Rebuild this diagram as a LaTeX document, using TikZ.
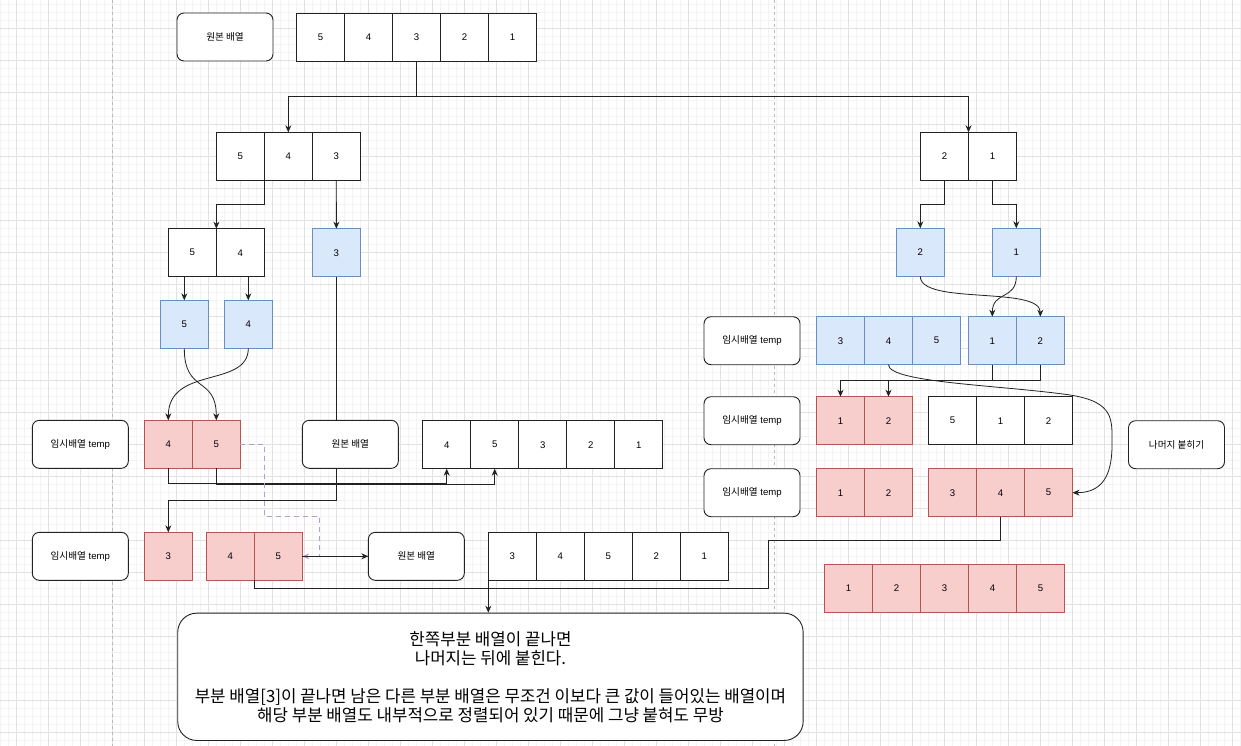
\documentclass[tikz,border=0pt]{standalone}
\usepackage{fontspec}
\setmainfont{Liberation Sans}
\newfontfamily\kr{Noto Sans CJK KR}
\usetikzlibrary{arrows.meta}
\definecolor{bfill}{HTML}{DAE8FC}
\definecolor{bline}{HTML}{6C8EBF}
\definecolor{rfill}{HTML}{F8CECC}
\definecolor{rline}{HTML}{B85450}
\definecolor{pline}{HTML}{B49FCB}
\definecolor{gmaj}{HTML}{E2E2E2}
\definecolor{gmin}{HTML}{F3F3F3}
\definecolor{ink}{HTML}{222222}
\newcommand\mkarr[5]{\foreach \v [count=\i] in {#5}{\node[#4] (#1\i) at ({#2+48*(\i-1)},#3) {\v};}}
\begin{document}
\begin{tikzpicture}[x=1pt,y=-1pt,
  cell/.style={draw=ink, line width=0.9pt, minimum width=48pt, minimum height=48pt, inner sep=0pt, outer sep=0pt, anchor=north west, fill=white, font=\fontsize{9.6}{11}\selectfont},
  bcell/.style={cell, draw=bline, fill=bfill},
  rcell/.style={cell, draw=rline, fill=rfill},
  lbl/.style={draw=ink, line width=0.9pt, rounded corners=7pt, minimum width=96pt, minimum height=48pt, inner sep=0pt, outer sep=0pt, anchor=north west, fill=white, font=\fontsize{9.6}{11}\selectfont},
  conn/.style={draw=ink, line width=0.8pt, -{Stealth[length=7pt,width=6pt]}},
  plain/.style={draw=ink, line width=0.8pt},
  dconn/.style={draw=pline, line width=0.9pt, dash pattern=on 5pt off 4pt, -{Stealth[length=7pt,width=6pt]}},
  pagesep/.style={draw=gray!55, line width=0.6pt, dash pattern=on 3pt off 3pt}
]
\useasboundingbox (0,0) rectangle (1241,746);
\fill[white] (0,0) rectangle (1241,746);
% grid
\foreach \x in {0.7,8.7,...,1241}{\draw[gmin, line width=0.5pt] (\x,0) -- (\x,746);}
\foreach \y in {4.3,12.3,...,746}{\draw[gmin, line width=0.5pt] (0,\y) -- (1241,\y);}
\foreach \x in {16.7,48.7,...,1241}{\draw[gmaj, line width=0.6pt] (\x,0) -- (\x,746);}
\foreach \y in {28.3,60.3,...,746}{\draw[gmaj, line width=0.6pt] (0,\y) -- (1241,\y);}
\draw[pagesep] (112.5,0) -- (112.5,746);
\draw[pagesep] (774.3,0) -- (774.3,746);

% ---------- left side ----------
\node[lbl] (T1) at (177,13) {\kr 원본 배열};
\mkarr{top}{296.6}{13}{cell}{5,4,3,2,1}
\mkarr{L}{216.3}{132.3}{cell}{5,4,3}
\mkarr{M}{168.4}{228.7}{cell}{5,4}
\node[bcell] (B3) at (312.4,228.7) {3};
\node[bcell] (B5) at (160.3,300.3) {5};
\node[bcell] (B4) at (224.3,300.3) {4};

\node[lbl] (T2) at (32.3,420.3) {{\kr 임시배열} temp};
\mkarr{RA}{144.3}{420.3}{rcell}{4,5}
\node[lbl] (O2) at (302.3,420.3) {\kr 원본 배열};
\mkarr{A}{422.7}{420.7}{cell}{4,5,3,2,1}

\node[lbl] (T3) at (32.3,532.3) {{\kr 임시배열} temp};
\node[rcell] (RB3) at (144.3,532.3) {3};
\mkarr{RB}{206.3}{532.3}{rcell}{4,5}
\node[lbl] (O3) at (368.3,532.3) {\kr 원본 배열};
\mkarr{C}{488.3}{532.3}{cell}{3,4,5,2,1}

\node[draw=ink, line width=0.9pt, rounded corners=19pt, minimum width=625.4pt, minimum height=127.3pt, inner sep=0pt, anchor=north west, fill=white, align=center, font=\kr\fontsize{16.8}{19}\selectfont] (T) at (177.3,612.7)
 {한쪽부분 배열이 끝나면\\나머지는 뒤에 붙힌다.\\[19pt]부분 배열[3]이 끝나면 남은 다른 부분 배열은 무조건 이보다 큰 값이 들어있는 배열이며\\해당 부분 배열도 내부적으로 정렬되어 있기 때문에 그냥 붙혀도 무방};

% ---------- right side ----------
\mkarr{R}{920.5}{132.3}{cell}{2,1}
\node[bcell] (BB2) at (896.3,228.3) {2};
\node[bcell] (BB1) at (992.3,228.3) {1};
\node[lbl] (T4) at (704,316.7) {{\kr 임시배열} temp};
\mkarr{P}{816.5}{316.7}{bcell}{3,4,5}
\mkarr{S}{968.3}{316.7}{bcell}{1,2}
\node[lbl] (T5) at (704,396.7) {{\kr 임시배열} temp};
\mkarr{Q}{816.5}{396.7}{rcell}{1,2}
\mkarr{W}{928.5}{396.7}{cell}{5,1,2}
\node[lbl] (N) at (1128.5,420.7) {\kr 나머지 붙히기};
\node[lbl] (T6) at (704,468.7) {{\kr 임시배열} temp};
\mkarr{G}{816.5}{468.7}{rcell}{1,2}
\mkarr{F}{928.5}{468.7}{rcell}{3,4,5}
\mkarr{Z}{824.5}{564.3}{rcell}{1,2,3,4,5}

\coordinate (J) at (488.3,588.7);
\coordinate (K) at (768,540.7);

% ---------- connectors ----------
\draw[conn] (top3.south) -- ++(0,35.7) -| (L2.north);
\draw[conn] (top3.south) -- ++(0,35.7) -| (R1.north east);
\draw[conn] (L1.south east) -- ++(0,24) -| (M1.north east);
\draw[conn] (L3.south) -- (B3.north);
\draw[conn] (B5.north |- M1.south) -- (B5.north);
\draw[conn] (B4.north |- M1.south) -- (B4.north);
\draw[conn] (B5.south) .. controls +(0,46) and +(0,-45) .. (RA2.north);
\draw[conn] (B4.south) .. controls +(0,40) and +(0,-55) .. (RA1.north);
\draw[plain] (B3.south) -- (B3.south |- O2.north);
\draw[conn] (B3.south |- O2.south) -- ++(0,31.7) -| (RB3.north);
\draw[conn] (RA1.south) -- ++(0,15.5) -| (A1.south);
\draw[conn] (RA2.south) -- ++(0,16.5) -| (A2.south);
\draw[dconn] (RA2.east) -- ++(24,0) -- ++(0,72.4) -- ++(55,0) |- (RB2.east);
\draw[conn] (RB2.east) -- (O3.west);
\draw[plain] (RB1.south east) |- (J);
\draw[plain] (F2.south) |- (K) |- (J);
\draw[conn] (C1.south west) -- (C1.south west |- T.north);

\draw[conn] (R1.south) -- ++(0,24) -| (BB2.north);
\draw[conn] (R2.south) -- ++(0,24) -| (BB1.north);
\draw[conn] (BB2.south) .. controls +(0,29) and +(0,-31) .. (S2.north);
\draw[conn] (BB1.south) .. controls +(0,24) and +(0,-26) .. (S1.north);
\draw[conn] (S1.south) -- ++(0,15.7) -| (Q1.north);
\draw[conn] (S2.south) -- ++(0,15.7) -| (Q2.north);
\draw[conn] (P2.south) .. controls +(0,18) and +(-70,-10) .. (1070,395)
  .. controls +(45,7) and +(0,-25) .. (1112,445)
  .. controls +(0,30) and +(30,0) .. (F3.east);
\end{tikzpicture}
\end{document}
